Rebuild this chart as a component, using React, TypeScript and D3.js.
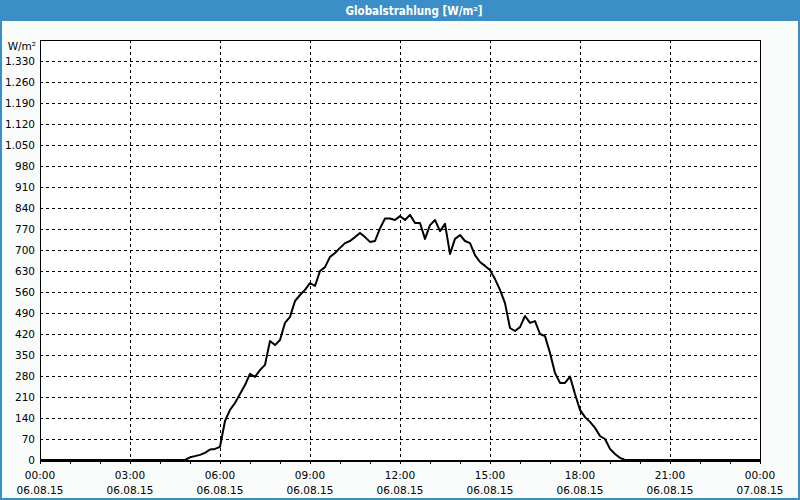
import React from "react";
import * as d3 from "d3";

const TITLE = "Globalstrahlung [W/m²]";
const UNIT = "W/m²";

// time of day (HH:MM, 24:00 = next midnight) and global radiation in W/m²
const times = [
  "00:00", "04:50", "05:00", "05:10", "05:20", "05:30", "05:40", "05:50",
  "06:00", "06:10", "06:20", "06:30", "06:40", "06:50", "07:00", "07:10",
  "07:20", "07:30", "07:40", "07:50", "08:00", "08:10", "08:20", "08:30",
  "08:40", "08:50", "09:00", "09:10", "09:20", "09:30", "09:40", "09:50",
  "10:00", "10:10", "10:20", "10:30", "10:40", "10:50", "11:00", "11:10",
  "11:20", "11:30", "11:40", "11:50", "12:00", "12:10", "12:20", "12:30",
  "12:40", "12:50", "13:00", "13:10", "13:20", "13:30", "13:40", "13:50",
  "14:00", "14:10", "14:20", "14:30", "14:40", "14:50", "15:00", "15:10",
  "15:20", "15:30", "15:40", "15:50", "16:00", "16:10", "16:20", "16:30",
  "16:40", "16:50", "17:00", "17:10", "17:20", "17:30", "17:40", "17:50",
  "18:00", "18:10", "18:20", "18:30", "18:40", "18:50", "19:00", "19:10",
  "19:20", "19:30", "24:00",
];
const values = [
  0, 0, 9, 13, 17, 24, 35, 37,
  44, 130, 167, 190, 220, 250, 287, 277,
  300, 317, 397, 383, 400, 457, 477, 530,
  550, 567, 590, 580, 630, 643, 677, 690,
  707, 723, 730, 743, 757, 743, 727, 730,
  772, 805, 805, 800, 813, 800, 817, 790,
  790, 737, 783, 800, 763, 787, 687, 737,
  750, 730, 723, 683, 660, 647, 633, 603,
  567, 523, 440, 430, 443, 480, 457, 463,
  420, 413, 357, 290, 257, 257, 278, 220,
  167, 143, 127, 107, 80, 70, 37, 20,
  7, 0, 0,
];

const xTickLabels = ["00:00", "03:00", "06:00", "09:00", "12:00", "15:00", "18:00", "21:00", "00:00"];
const xDateLabels = ["06.08.15", "06.08.15", "06.08.15", "06.08.15", "06.08.15", "06.08.15", "06.08.15", "06.08.15", "07.08.15"];
const yTicks = [0, 70, 140, 210, 280, 350, 420, 490, 560, 630, 700, 770, 840, 910, 980, 1050, 1120, 1190, 1260, 1330];

const W = 800;
const H = 500;
const M = { left: 40, right: 760, top: 40, bottom: 460 };
const BLUE = "#3c8fc6";
const FONT = "'DejaVu Sans', Verdana, sans-serif";

function toHours(t: string) {
  const [h, m] = t.split(":").map(Number);
  return h + m / 60;
}

const fmt = (v: number) => {
  const s = String(v);
  return s.length > 3 ? s.slice(0, s.length - 3) + "." + s.slice(-3) : s;
};

export default function App() {
  const x = d3.scaleLinear().domain([0, 24]).range([M.left, M.right]);
  const y = d3.scaleLinear().domain([0, 1400]).range([M.bottom, M.top]);
  const data = times.map((t, i) => ({ h: toHours(t), v: values[i] }));
  const line = d3
    .line<{ h: number; v: number }>()
    .x((d) => x(d.h))
    .y((d) => y(d.v));

  const majorHours = d3.range(0, 25, 3);
  const minorHours = d3.range(0, 25, 1);

  return (
    <svg
      width={W}
      height={H}
      style={{ position: "absolute", left: 0, top: 0, display: "block" }}
      shapeRendering="crispEdges"
    >
      <rect x={0} y={0} width={W} height={H} fill="#f9fcfb" />
      <rect x={1} y={1} width={W - 2} height={H - 2} fill="none" stroke={BLUE} strokeWidth={2} />
      <rect x={0} y={0} width={W} height={21} fill={BLUE} />
      <text
        x={414}
        y={15}
        textAnchor="middle"
        fill="#ffffff"
        fontFamily={FONT}
        fontWeight="bold"
        fontSize={11.5}
        textLength={137}
        lengthAdjust="spacingAndGlyphs"
      >
        {TITLE}
      </text>

      <rect x={M.left} y={M.top} width={M.right - M.left} height={M.bottom - M.top} fill="#ffffff" />

      {yTicks.filter((v) => v > 0).map((v) => (
        <line
          key={"gy" + v}
          x1={M.left}
          x2={M.right}
          y1={Math.round(y(v)) + 0.5}
          y2={Math.round(y(v)) + 0.5}
          stroke="#000"
          strokeWidth={1}
          strokeDasharray="3,3"
        />
      ))}
      {majorHours.filter((h) => h > 0 && h < 24).map((h) => (
        <line
          key={"gx" + h}
          x1={Math.round(x(h)) + 0.5}
          x2={Math.round(x(h)) + 0.5}
          y1={M.top}
          y2={M.bottom}
          stroke="#000"
          strokeWidth={1}
          strokeDasharray="3,3"
        />
      ))}

      <rect
        x={M.left + 0.5}
        y={M.top + 0.5}
        width={M.right - M.left}
        height={M.bottom - M.top}
        fill="none"
        stroke="#000"
        strokeWidth={1}
      />
      <line x1={M.left} x2={M.right + 1} y1={M.bottom + 1} y2={M.bottom + 1} stroke="#000" strokeWidth={1} />

      {minorHours.map((h) => (
        <line
          key={"tx" + h}
          x1={Math.round(x(h)) + 0.5}
          x2={Math.round(x(h)) + 0.5}
          y1={M.bottom}
          y2={M.bottom + 4}
          stroke="#000"
          strokeWidth={1}
        />
      ))}

      {yTicks.map((v) => (
        <text
          key={"ly" + v}
          x={35}
          y={y(v) + 4}
          textAnchor="end"
          fontFamily={FONT}
          fontSize={10.5}
          fill="#000"
        >
          {fmt(v)}
        </text>
      ))}
      <text x={36} y={50} textAnchor="end" fontFamily={FONT} fontSize={10.5} fill="#000">
        {UNIT}
      </text>

      {majorHours.map((h, i) => (
        <g key={"lx" + h}>
          <text x={x(h)} y={479} textAnchor="middle" fontFamily={FONT} fontSize={10.5} fill="#000">
            {xTickLabels[i]}
          </text>
          <text x={x(h)} y={494} textAnchor="middle" fontFamily={FONT} fontSize={10.5} fill="#000">
            {xDateLabels[i]}
          </text>
        </g>
      ))}

      <path
        d={line(data) || ""}
        fill="none"
        stroke="#000"
        strokeWidth={2}
        strokeLinejoin="round"
        shapeRendering="auto"
      />
    </svg>
  );
}
